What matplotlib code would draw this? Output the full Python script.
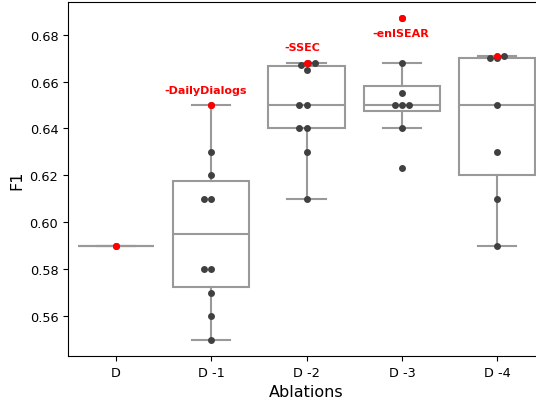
import pandas as pd
import matplotlib
matplotlib.use("Agg")
import matplotlib.pyplot as plt
import seaborn as sns

# datos
ablaciones = ["D", "D -1", "D -2", "D -3", "D -4"]
f1_d = [0.59]
f1_d1 = [0.55, 0.56, 0.57, 0.58, 0.58, 0.61, 0.61, 0.62, 0.63, 0.65]
f1_d2 = [0.61, 0.63, 0.64, 0.64, 0.65, 0.65, 0.665, 0.667, 0.668, 0.668]
f1_d3 = [0.623, 0.64, 0.65, 0.65, 0.65, 0.655, 0.668, 0.687]
f1_d4 = [0.59, 0.61, 0.63, 0.65, 0.67, 0.67, 0.671]
mejores = [0.59, 0.65, 0.668, 0.687, 0.671]
etiquetas = ["", "-DailyDialogs", "-SSEC", "-enISEAR", ""]

grupos = [f1_d, f1_d1, f1_d2, f1_d3, f1_d4]
df = pd.DataFrame({
    "Ablations": [a for a, g in zip(ablaciones, grupos) for _ in g],
    "F1": [v for g in grupos for v in g],
})

fig = plt.figure(figsize=(5.36, 4.02), dpi=100)
ax = fig.add_axes([68 / 536, 45 / 402, 477 / 536, 354 / 402])

gris = "#999999"
ax.boxplot(grupos, positions=range(len(grupos)), widths=0.8, patch_artist=True,
           showfliers=False, zorder=1,
           boxprops=dict(facecolor="white", edgecolor=gris, linewidth=1.5),
           whiskerprops=dict(color=gris, linewidth=1.5),
           capprops=dict(color=gris, linewidth=1.5),
           medianprops=dict(color=gris, linewidth=1.5))

sns.swarmplot(data=df, x="Ablations", y="F1", order=ablaciones, color=".25", size=5, ax=ax, zorder=3)

# mejores resultados en rojo
ax.scatter(range(len(mejores)), mejores, color="red", s=26, zorder=4, linewidths=0)
desplaz = [(0, 0), (-4, 11), (-3, 11), (-1, -11), (0, 0)]
for i, (txt, v) in enumerate(zip(etiquetas, mejores)):
    if txt:
        ax.annotate(txt, (i, v), xytext=desplaz[i], textcoords="offset points",
                    ha="center", va="center", color="red", fontsize=8, fontweight="bold")

ax.set_xlim(-0.5, 4.5)
ax.set_xticks(range(len(ablaciones)))
ax.set_xticklabels(ablaciones)
ax.tick_params(labelsize=9.3)
ax.yaxis.set_major_formatter(matplotlib.ticker.FormatStrFormatter("%.2f"))
ax.set_xlabel("Ablations", fontsize=11.5)
ax.set_ylabel("F1", fontsize=11.5)

plt.savefig("out.png", dpi=100)
